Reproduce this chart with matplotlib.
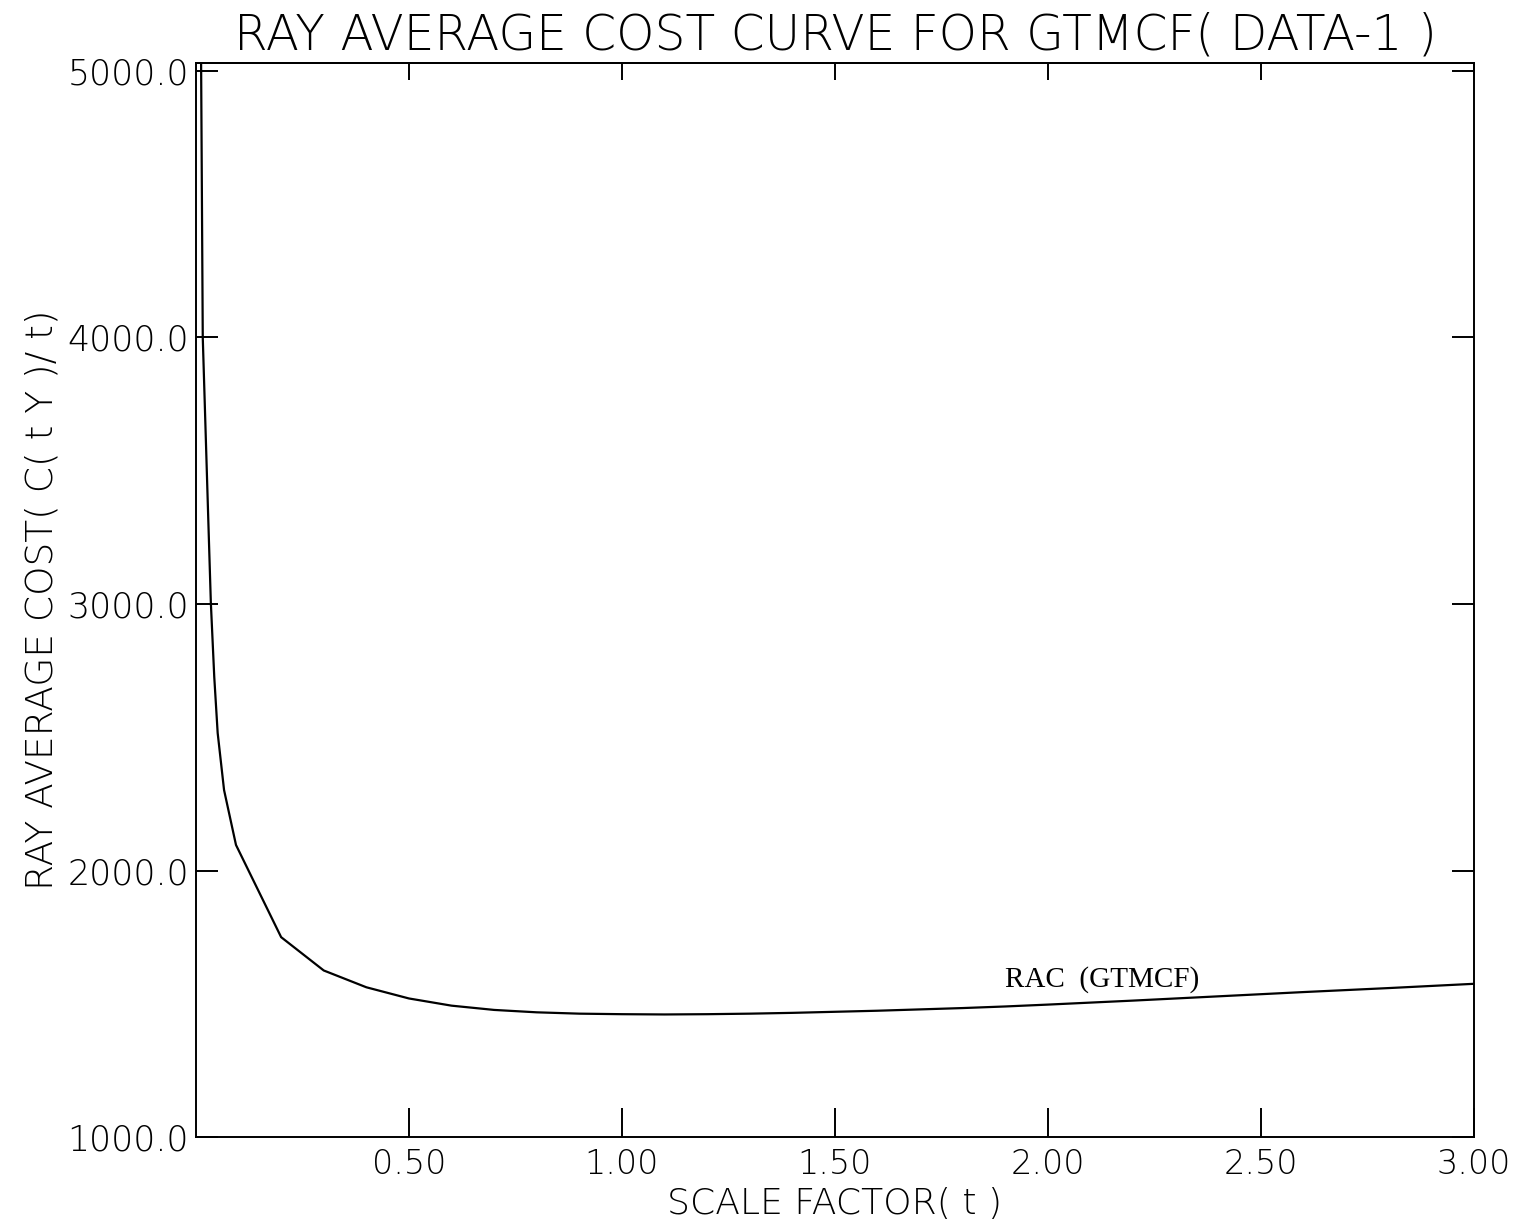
import numpy as np
import matplotlib
matplotlib.use("Agg")
import matplotlib.pyplot as plt

# Ray average cost curve data
scale_t = [0.012, 0.016, 0.029, 0.035, 0.043, 0.051, 0.066, 0.094, 0.2, 0.3,
           0.4, 0.5, 0.6, 0.7, 0.8, 0.9, 1.0, 1.1, 1.2, 1.3, 1.4, 1.5, 1.6,
           1.7, 1.8, 1.9, 2.0, 2.2, 2.4, 2.6, 2.8, 3.0]
rac_cost = [5060, 4000, 3315, 3004, 2726, 2516, 2302, 2096, 1750, 1625,
            1562, 1520, 1493, 1477, 1468, 1463, 1461, 1460, 1461, 1463, 1466,
            1470, 1474, 1479, 1484, 1490, 1497, 1512, 1528, 1544, 1559, 1575]

x_ticks = [0.5, 1.0, 1.5, 2.0, 2.5, 3.0]
x_tick_labels = ["0.50", "1.00", "1.50", "2.00", "2.50", "3.00"]
y_ticks = [1000, 2000, 3000, 4000, 5000]
y_tick_labels = ["1000.0", "2000.0", "3000.0", "4000.0", "5000.0"]

plt.rcParams['font.family'] = ['DejaVu Sans']

fig = plt.figure(figsize=(15.32, 12.27), dpi=100)
ax = fig.add_axes([0.1279, 0.0733, 0.9621 - 0.1279, 0.9487 - 0.0733])

ax.plot(scale_t, rac_cost, color='black', linewidth=1.6)

ax.set_xlim(0, 3.0)
ax.set_ylim(1000, 5030)

ax.set_xticks(x_ticks)
ax.set_xticklabels(x_tick_labels, fontsize=24, fontweight='light')
ax.set_yticks(y_ticks)
ax.set_yticklabels(y_tick_labels, fontsize=25, fontweight='light')

ax.tick_params(axis='x', direction='in', length=21, width=1.4, top=False,
               pad=8, colors='black')
ax.tick_params(axis='y', direction='in', length=16, width=1.4, right=True,
               pad=5, colors='black')

# shorter tick marks along the top edge
top = ax.secondary_xaxis('top')
top.set_xticks(x_ticks)
top.tick_params(direction='in', length=12, width=1.4, labeltop=False)
top.spines['top'].set_linewidth(1.4)

for s in ax.spines.values():
    s.set_linewidth(1.4)
    s.set_color('black')

ax.set_title("RAY AVERAGE COST CURVE FOR GTMCF( DATA-1 )", fontsize=35,
             fontweight='light', pad=10)
ax.set_xlabel("SCALE FACTOR( t )", fontsize=26, fontweight='light', labelpad=4)
ax.set_ylabel("RAY AVERAGE COST( C( t Y )/ t)", fontsize=27, fontweight='light',
              labelpad=6)

ax.text(1.90, 1540, "RAC  (GTMCF)", fontsize=21, family='Liberation Serif',
        ha='left', va='bottom')

fig.savefig("out.png", dpi=100, facecolor='white')
